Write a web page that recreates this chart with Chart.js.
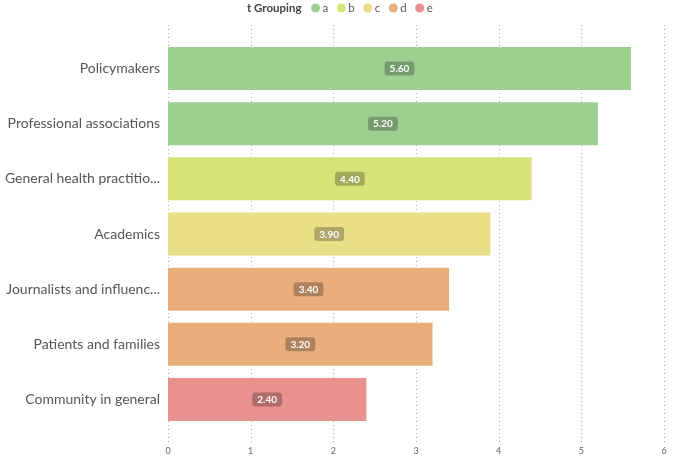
<!DOCTYPE html>
<html>
<head>
<meta charset="utf-8">
<script src="https://cdn.jsdelivr.net/npm/chart.js@4/dist/chart.umd.min.js"></script>
<style>
  html, body { margin: 0; padding: 0; background: #fff; overflow: hidden; }
  #wrap { width: 675px; height: 459px; }
</style>
</head>
<body>
<div id="wrap"><canvas id="chart"></canvas></div>
<script>
'use strict'

var categories = ['Policymakers', 'Professional associations', 'General health practitio...', 'Academics', 'Journalists and influenc...', 'Patients and families', 'Community in general'];
var values = [5.6, 5.2, 4.4, 3.9, 3.4, 3.2, 2.4];
var groups = ['a', 'a', 'b', 'c', 'd', 'd', 'e'];
var groupNames = ['a', 'b', 'c', 'd', 'e'];
var groupColors = ['#9dd090', '#d7e377', '#e8df87', '#e9ae7b', '#e8918f'];
var legendTitle = 't Grouping';
var xTicks = [0, 1, 2, 3, 4, 5, 6];

var barColors = [];
for (var i = 0; i < groups.length; i++) {
  barColors.push(groupColors[groupNames.indexOf(groups[i])]);
}

var FONT = 'Lato, "Open Sans", sans-serif';

// dotted vertical grid, runs a bit above and below the plot
var dottedGrid = {
  id: 'dottedGrid',
  beforeDatasetsDraw: function(chart) {
    var ctx = chart.ctx;
    var x = chart.scales.x;
    ctx.save();
    ctx.strokeStyle = '#aaa';
    ctx.lineWidth = 1;
    ctx.setLineDash([1, 3]);
    x.ticks.forEach(function(t) {
      var px = Math.round(x.getPixelForValue(t.value)) + 0.5;
      ctx.beginPath();
      ctx.moveTo(px, 25);
      ctx.lineTo(px, 443);
      ctx.stroke();
    });
    ctx.restore();
  }
};

var valueBadges = {
  id: 'valueBadges',
  afterDatasetsDraw: function(chart) {
    var ctx = chart.ctx;
    var meta = chart.getDatasetMeta(0);
    ctx.save();
    ctx.font = 'bold 10px ' + FONT;
    ctx.textAlign = 'center';
    ctx.textBaseline = 'middle';
    meta.data.forEach(function(bar, i) {
      var txt = values[i].toFixed(2);
      var cx = (bar.x + bar.base) / 2;
      var cy = bar.y;
      var w = ctx.measureText(txt).width + 10;
      var h = 14;
      ctx.fillStyle = 'rgba(0,0,0,0.25)';
      ctx.beginPath();
      ctx.roundRect(cx - w / 2, cy - h / 2, w, h, 3);
      ctx.fill();
      ctx.fillStyle = '#fff';
      ctx.fillText(txt, cx, cy + 0.5);
    });
    ctx.restore();
  }
};

var topLegend = {
  id: 'topLegend',
  afterDraw: function(chart) {
    var ctx = chart.ctx;
    ctx.save();
    ctx.textBaseline = 'middle';
    ctx.textAlign = 'left';
    ctx.font = 'bold 11.5px ' + FONT;
    ctx.fillStyle = '#444';
    var x = 247;
    var y = 8;
    ctx.fillText(legendTitle, x, y);
    x += ctx.measureText(legendTitle).width + 10;
    ctx.font = '11.5px ' + FONT;
    for (var i = 0; i < groupNames.length; i++) {
      ctx.fillStyle = groupColors[i];
      ctx.beginPath();
      ctx.arc(x + 4, y, 4.5, 0, Math.PI * 2);
      ctx.fill();
      ctx.fillStyle = '#555';
      ctx.fillText(groupNames[i], x + 11, y);
      x += 11 + ctx.measureText(groupNames[i]).width + 9;
    }
    ctx.restore();
  }
};

var ctx = document.getElementById('chart').getContext('2d');

var chart = new Chart(ctx, {
  type: 'bar',
  data: {
    labels: categories,
    datasets: [{
      data: values,
      backgroundColor: barColors,
      borderWidth: 0,
      barPercentage: 0.78,
      categoryPercentage: 1
    }]
  },
  options: {
    indexAxis: 'y',
    responsive: true,
    maintainAspectRatio: false,
    animation: false,
    layout: {
      padding: { left: 0, right: 11, top: 41, bottom: 0 }
    },
    plugins: {
      legend: { display: false },
      tooltip: { enabled: false }
    },
    scales: {
      x: {
        min: 0,
        max: 6,
        afterBuildTicks: function(scale) {
          scale.ticks = xTicks.map(function(v) { return { value: v }; });
        },
        afterFit: function(scale) {
          scale.height = 32;
          scale.paddingLeft = 0;
          scale.paddingRight = 0;
        },
        grid: { display: false },
        border: { display: false },
        ticks: {
          padding: 11,
          color: '#666',
          font: { family: FONT, size: 9 }
        }
      },
      y: {
        grid: { display: false },
        border: { display: false },
        afterFit: function(scale) { scale.width = 168; },
        ticks: {
          padding: 0,
          color: '#555',
          font: { family: FONT, size: 14 }
        }
      }
    }
  },
  plugins: [dottedGrid, valueBadges, topLegend]
});
</script>
</body>
</html>
